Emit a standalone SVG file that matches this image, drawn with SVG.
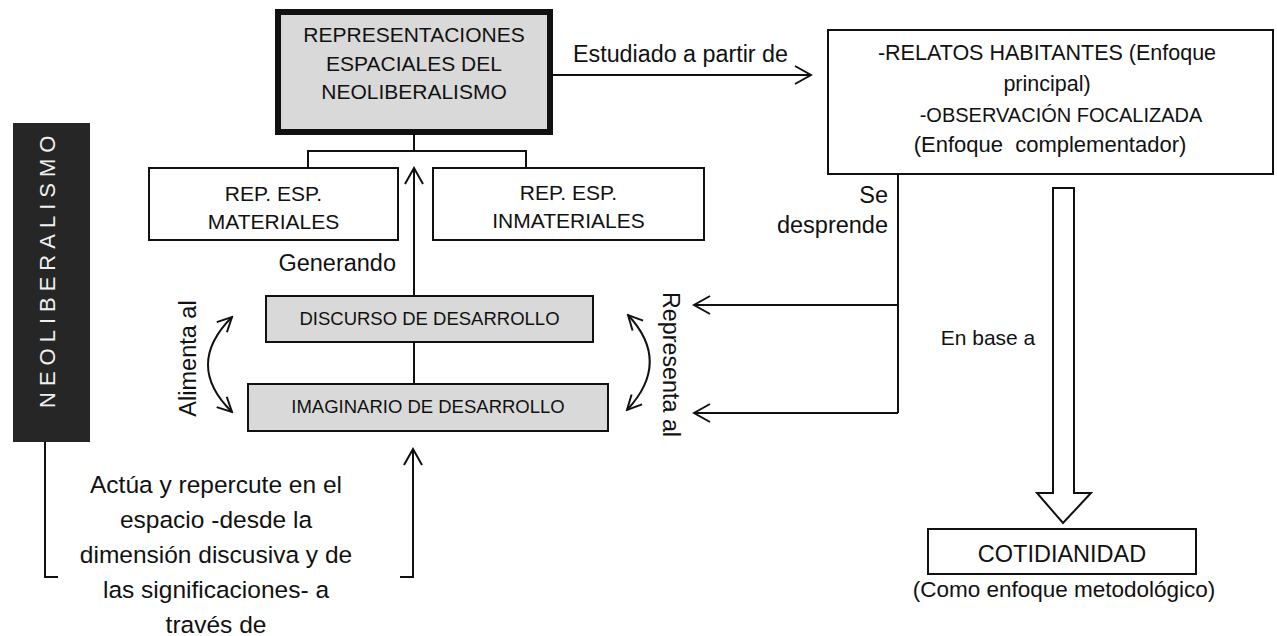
<svg xmlns="http://www.w3.org/2000/svg" width="1277" height="636" viewBox="0 0 1277 636">
<style>
text{font-family:"Liberation Sans",Arial,sans-serif;fill:#111}
.box{fill:#fff;stroke:#111;stroke-width:2}
.gray{fill:#d9d9d9;stroke:#111;stroke-width:2}
.ln{fill:none;stroke:#111;stroke-width:2}
.c{text-anchor:middle}
</style>
<defs>
<marker id="chev" viewBox="0 0 20 20" refX="18" refY="10" markerWidth="20" markerHeight="20" markerUnits="userSpaceOnUse" orient="auto">
<path d="M2,1 L18,10 L2,19" fill="none" stroke="#111" stroke-width="2"/>
</marker>
<marker id="chevS" viewBox="0 0 20 20" refX="18" refY="10" markerWidth="18" markerHeight="18" markerUnits="userSpaceOnUse" orient="auto-start-reverse">
<path d="M2,2 L18,10 L2,18" fill="none" stroke="#111" stroke-width="2.2"/>
</marker>
</defs>

<g id="neoliberalismo">
<rect x="13" y="123" width="77" height="319" fill="#262626"/>
<text transform="translate(55,408) rotate(-90)" font-size="22" letter-spacing="6" style="fill:#f0f0f0">NEOLIBERALISMO</text>
</g>

<g id="representaciones">
<rect x="278" y="12" width="272" height="120" fill="#d9d9d9" stroke="#111" stroke-width="6"/>
<text class="c" x="414" y="42" font-size="21">REPRESENTACIONES</text>
<text class="c" x="414" y="71" font-size="21">ESPACIALES DEL</text>
<text class="c" x="414" y="99" font-size="21">NEOLIBERALISMO</text>
</g>

<g id="materiales">
<rect class="box" x="149" y="168" width="249" height="72"/>
<text class="c" x="273.5" y="201" font-size="21">REP. ESP.</text>
<text class="c" x="273.5" y="229" font-size="21">MATERIALES</text>
</g>

<g id="inmateriales">
<rect class="box" x="433" y="168" width="271" height="72"/>
<text class="c" x="568.5" y="200" font-size="21">REP. ESP.</text>
<text class="c" x="568.5" y="228" font-size="21">INMATERIALES</text>
</g>

<g id="discurso">
<rect class="gray" x="266" y="296" width="327" height="46"/>
<text class="c" x="429.5" y="325" font-size="18.5">DISCURSO DE DESARROLLO</text>
</g>

<g id="imaginario">
<rect class="gray" x="248" y="384" width="360" height="47"/>
<text class="c" x="428" y="413" font-size="18.5">IMAGINARIO DE DESARROLLO</text>
</g>

<g id="relatos">
<rect class="box" x="828" y="30" width="445" height="144"/>
<text class="c" x="1047" y="60" font-size="21.5">-RELATOS HABITANTES (Enfoque</text>
<text class="c" x="1047" y="91" font-size="21.5">principal)</text>
<text class="c" x="1061" y="122" font-size="20">-OBSERVACIÓN FOCALIZADA</text>
<text class="c" x="1050" y="152" font-size="22" xml:space="preserve">(Enfoque  complementador)</text>
</g>

<g id="cotidianidad">
<rect class="box" x="928" y="529" width="268" height="45"/>
<text class="c" x="1062" y="562" font-size="23.5">COTIDIANIDAD</text>
<text class="c" x="1064" y="597" font-size="22.5">(Como enfoque metodológico)</text>
</g>

<g id="connectors">
<line class="ln" x1="553" y1="75" x2="811" y2="75" marker-end="url(#chev)"/>
<text x="573" y="62" font-size="23.3">Estudiado a partir de</text>

<path class="ln" d="M414,135 V151 M308,168 V151 H526 V168"/>

<line class="ln" x1="414" y1="296" x2="414" y2="168" marker-end="url(#chev)"/>
<text x="396" y="271" font-size="23.5" text-anchor="end">Generando</text>

<line class="ln" x1="414" y1="342" x2="414" y2="384"/>

<path class="ln" d="M232,317 Q184,365 232,412" marker-start="url(#chevS)" marker-end="url(#chevS)"/>
<text transform="translate(196,358.5) rotate(-90)" class="c" font-size="23.5">Alimenta al</text>

<path class="ln" d="M628,315 Q672,362 627,410" marker-start="url(#chevS)" marker-end="url(#chevS)"/>
<text transform="translate(663,364.5) rotate(90)" class="c" font-size="23.3">Representa al</text>

<path class="ln" d="M898,174 V413"/>
<line class="ln" x1="898" y1="305" x2="694" y2="305" marker-end="url(#chev)"/>
<line class="ln" x1="898" y1="413" x2="694" y2="413" marker-end="url(#chev)"/>
<text x="888" y="203" font-size="23.5" text-anchor="end">Se</text>
<text x="888" y="233" font-size="23.5" text-anchor="end">desprende</text>

<path d="M1053,188 H1074 V493 H1091 L1063,523 L1037,493 H1053 Z" fill="#fff" stroke="#111" stroke-width="2"/>
<text x="988" y="345" font-size="21" class="c">En base a</text>

<path class="ln" d="M45,442 V577 H58"/>
<path class="ln" d="M400,577 H413 V449" marker-end="url(#chev)"/>
<text class="c" x="216" y="493" font-size="24.5">Actúa y repercute en el</text>
<text class="c" x="216" y="528" font-size="24.5">espacio -desde la</text>
<text class="c" x="216" y="563" font-size="24.5">dimensión discusiva y de</text>
<text class="c" x="216" y="598" font-size="24.5">las significaciones- a</text>
<text class="c" x="216" y="633" font-size="24.5">través de</text>
</g>
</svg>
